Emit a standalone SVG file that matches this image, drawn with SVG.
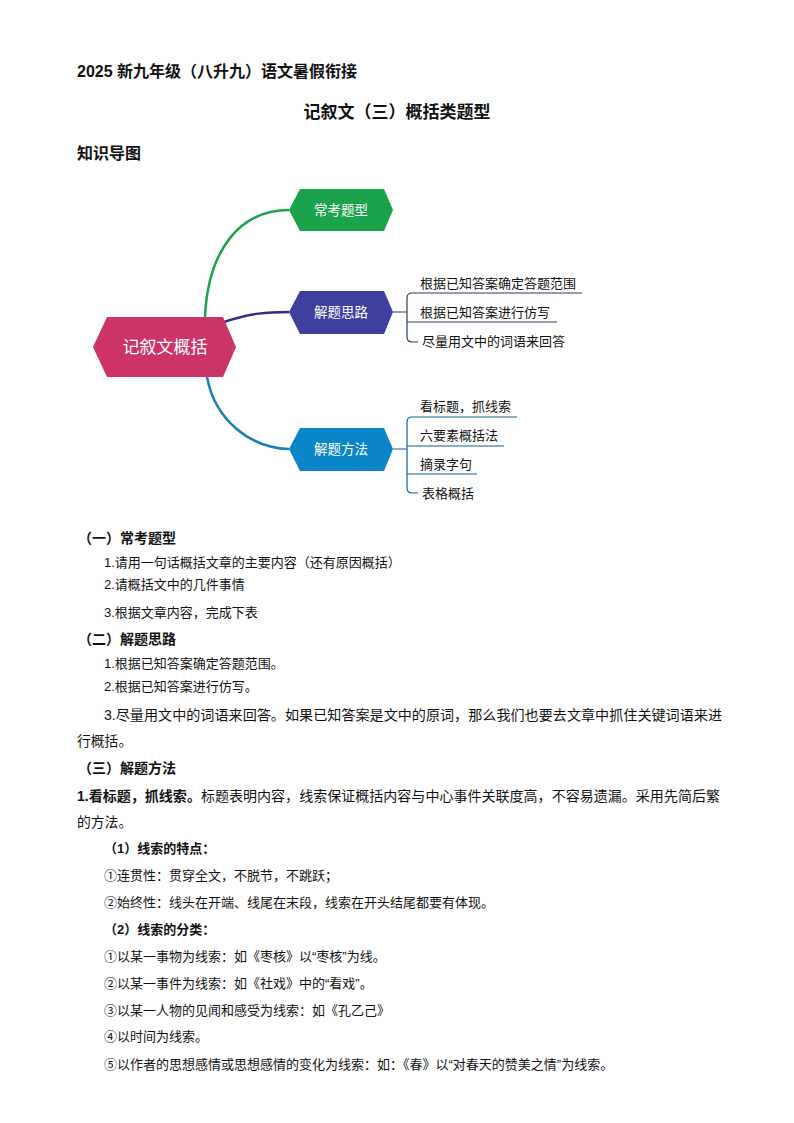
<svg xmlns="http://www.w3.org/2000/svg" width="794" height="1123" viewBox="0 0 794 1123">
<style>
text{font-family:"Liberation Sans","Noto Sans CJK SC",sans-serif;fill:#111}
.b{font-weight:bold}
.n{font-size:13.8px}
.s{font-size:13px}
.w{fill:#fff;text-anchor:middle}
.br{fill:none;stroke:#2b3a67;stroke-width:1.2}
.bl{fill:none;stroke:#0a5f96;stroke-width:1.2}
</style>
<rect width="794" height="1123" fill="#fff"/>
<text x="77" y="77" class="b" font-size="16">2025 新九年级（八升九）语文暑假衔接</text>
<text x="397" y="118" class="b" font-size="17" text-anchor="middle">记叙文（三）概括类题型</text>
<text x="77" y="159" class="b" font-size="16">知识导图</text>

<g id="connectors">
<path d="M205,317 C208,250 240,210 289,210" fill="none" stroke="#1aa34a" stroke-width="2.5"/>
<path d="M224,322 C250,313 268,312 289,312" fill="none" stroke="#2e2e8a" stroke-width="2.5"/>
<path d="M207,377 C215,420 250,448 289,449" fill="none" stroke="#1a7fb8" stroke-width="2.5"/>
<path class="br" d="M393,312 H407 M407,298 Q407,293 412,293 H582 M407,298 V337 Q407,342 412,342 H418 M407,322 H557"/>
<path class="bl" d="M393,449 H407 M407,422 Q407,417 412,417 H517 M407,422 V488 Q407,493 412,493 H418 M407,446 H504 M407,474 H477"/>
</g>
<g id="root">
<polygon points="93,347 107,317 223,317 236,347 223,377 107,377" fill="#cc3366"/>
<text x="165" y="353" class="w" font-size="17">记叙文概括</text>
</g>
<g id="n1">
<polygon points="289,210 300,189 384,189 393,210 384,231 300,231" fill="#1aa34a"/>
<text x="341" y="215" class="w" font-size="13.5">常考题型</text>
</g>
<g id="n2">
<polygon points="289,312 300,291 384,291 393,312 384,334 300,334" fill="#3f3fa0"/>
<text x="341" y="317" class="w" font-size="13.5">解题思路</text>
</g>
<g id="n3">
<polygon points="289,449 300,428 384,428 393,449 384,471 300,471" fill="#0a86c8"/>
<text x="341" y="454" class="w" font-size="13.5">解题方法</text>
</g>
<g id="leaves" font-size="13">
<text x="420" y="288" font-size="13">根据已知答案确定答题范围</text>
<text x="420" y="317" font-size="13">根据已知答案进行仿写</text>
<text x="422" y="346" font-size="13">尽量用文中的词语来回答</text>
<text x="420" y="411" font-size="13">看标题，抓线索</text>
<text x="420" y="440" font-size="13">六要素概括法</text>
<text x="420" y="469" font-size="13">摘录字句</text>
<text x="422" y="498" font-size="13">表格概括</text>
</g>

<text x="78" y="543" class="b" font-size="14">（一）常考题型</text>
<text x="104" y="567" class="s">1.请用一句话概括文章的主要内容（还有原因概括）</text>
<text x="104" y="589" class="s">2.请概括文中的几件事情</text>
<text x="104" y="617" class="s">3.根据文章内容，完成下表</text>
<text x="78" y="644" class="b" font-size="14">（二）解题思路</text>
<text x="104" y="668" class="s">1.根据已知答案确定答题范围。</text>
<text x="104" y="691" class="s">2.根据已知答案进行仿写。</text>
<text x="104" y="720" class="n" textLength="618" lengthAdjust="spacingAndGlyphs">3.尽量用文中的词语来回答。如果已知答案是文中的原词，那么我们也要去文章中抓住关键词语来进</text>
<text x="77" y="746" class="n">行概括。</text>
<text x="78" y="773" class="b" font-size="14">（三）解题方法</text>
<text x="77" y="801" class="n" textLength="643" lengthAdjust="spacingAndGlyphs"><tspan class="b">1.看标题，抓线索。</tspan>标题表明内容，线索保证概括内容与中心事件关联度高，不容易遗漏。采用先简后繁</text>
<text x="77" y="827" class="n">的方法。</text>
<text x="104" y="853" class="b s">（1）线索的特点：</text>
<text x="104" y="880" class="s">①连贯性：贯穿全文，不脱节，不跳跃；</text>
<text x="104" y="907" class="s">②始终性：线头在开端、线尾在末段，线索在开头结尾都要有体现。</text>
<text x="104" y="934" class="b s">（2）线索的分类：</text>
<text x="104" y="961" class="s">①以某一事物为线索：如《枣核》以“枣核”为线。</text>
<text x="104" y="988" class="s">②以某一事件为线索：如《社戏》中的“看戏”。</text>
<text x="104" y="1015" class="s">③以某一人物的见闻和感受为线索：如《孔乙己》</text>
<text x="104" y="1041" class="s">④以时间为线索。</text>
<text x="104" y="1069" class="s">⑤以作者的思想感情或思想感情的变化为线索：如：《春》以“对春天的赞美之情”为线索。</text>
</svg>
